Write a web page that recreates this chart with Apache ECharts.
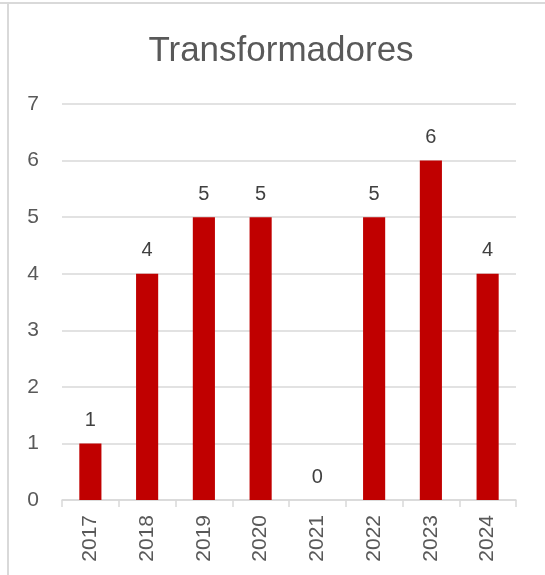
<!DOCTYPE html>
<html><head><meta charset="utf-8">
<script src="https://cdn.jsdelivr.net/npm/echarts@6/dist/echarts.min.js"></script>
<style>html,body{margin:0;padding:0;background:#fff}#c{width:545px;height:575px}</style>
</head><body><div id="c"></div>
<script>
const title = "Transformadores";
const categories = ["2017","2018","2019","2020","2021","2022","2023","2024"];
const values = [1,4,5,5,0,5,6,4];
const yTicks = [0,1,2,3,4,5,6,7];

const chart = echarts.init(document.getElementById('c'), null, {renderer:'canvas'});
const txt = '#595959', grid = '#d9d9d9', font = 'Liberation Sans';
chart.setOption({
  animation:false,
  backgroundColor:'#fff',
  textStyle:{fontFamily:font},
  graphic:[
    {type:'rect', shape:{x:0,y:2,width:545,height:2}, style:{fill:'#d9d9d9'}},
    {type:'rect', shape:{x:7,y:4,width:2,height:571}, style:{fill:'#d9d9d9'}}
  ],
  title:{text:title, left:276, textAlign:'center', top:29,
    textStyle:{fontFamily:font, fontSize:35, fontWeight:'normal', color:txt}},
  grid:{left:62, right:29, top:104, bottom:75, containLabel:false},
  xAxis:{type:'category', data:categories,
    axisLine:{lineStyle:{color:grid, width:1.5}},
    axisTick:{show:true, length:7, lineStyle:{color:grid, width:1.5}},
    axisLabel:{rotate:90, fontFamily:font, fontSize:21, color:txt, margin:15}},
  yAxis:{type:'value', min:yTicks[0], max:yTicks[yTicks.length-1], interval:1,
    axisLine:{show:false}, axisTick:{show:false},
    splitLine:{lineStyle:{color:grid, width:1.5}},
    axisLabel:{fontFamily:font, fontSize:21, color:txt, margin:23}},
  series:[{type:'bar', data:values, barWidth:'39%',
    itemStyle:{color:'#c00000'},
    label:{show:true, position:'top', distance:13, fontFamily:font, fontSize:20, color:'#404040'}}]
});
</script></body></html>
